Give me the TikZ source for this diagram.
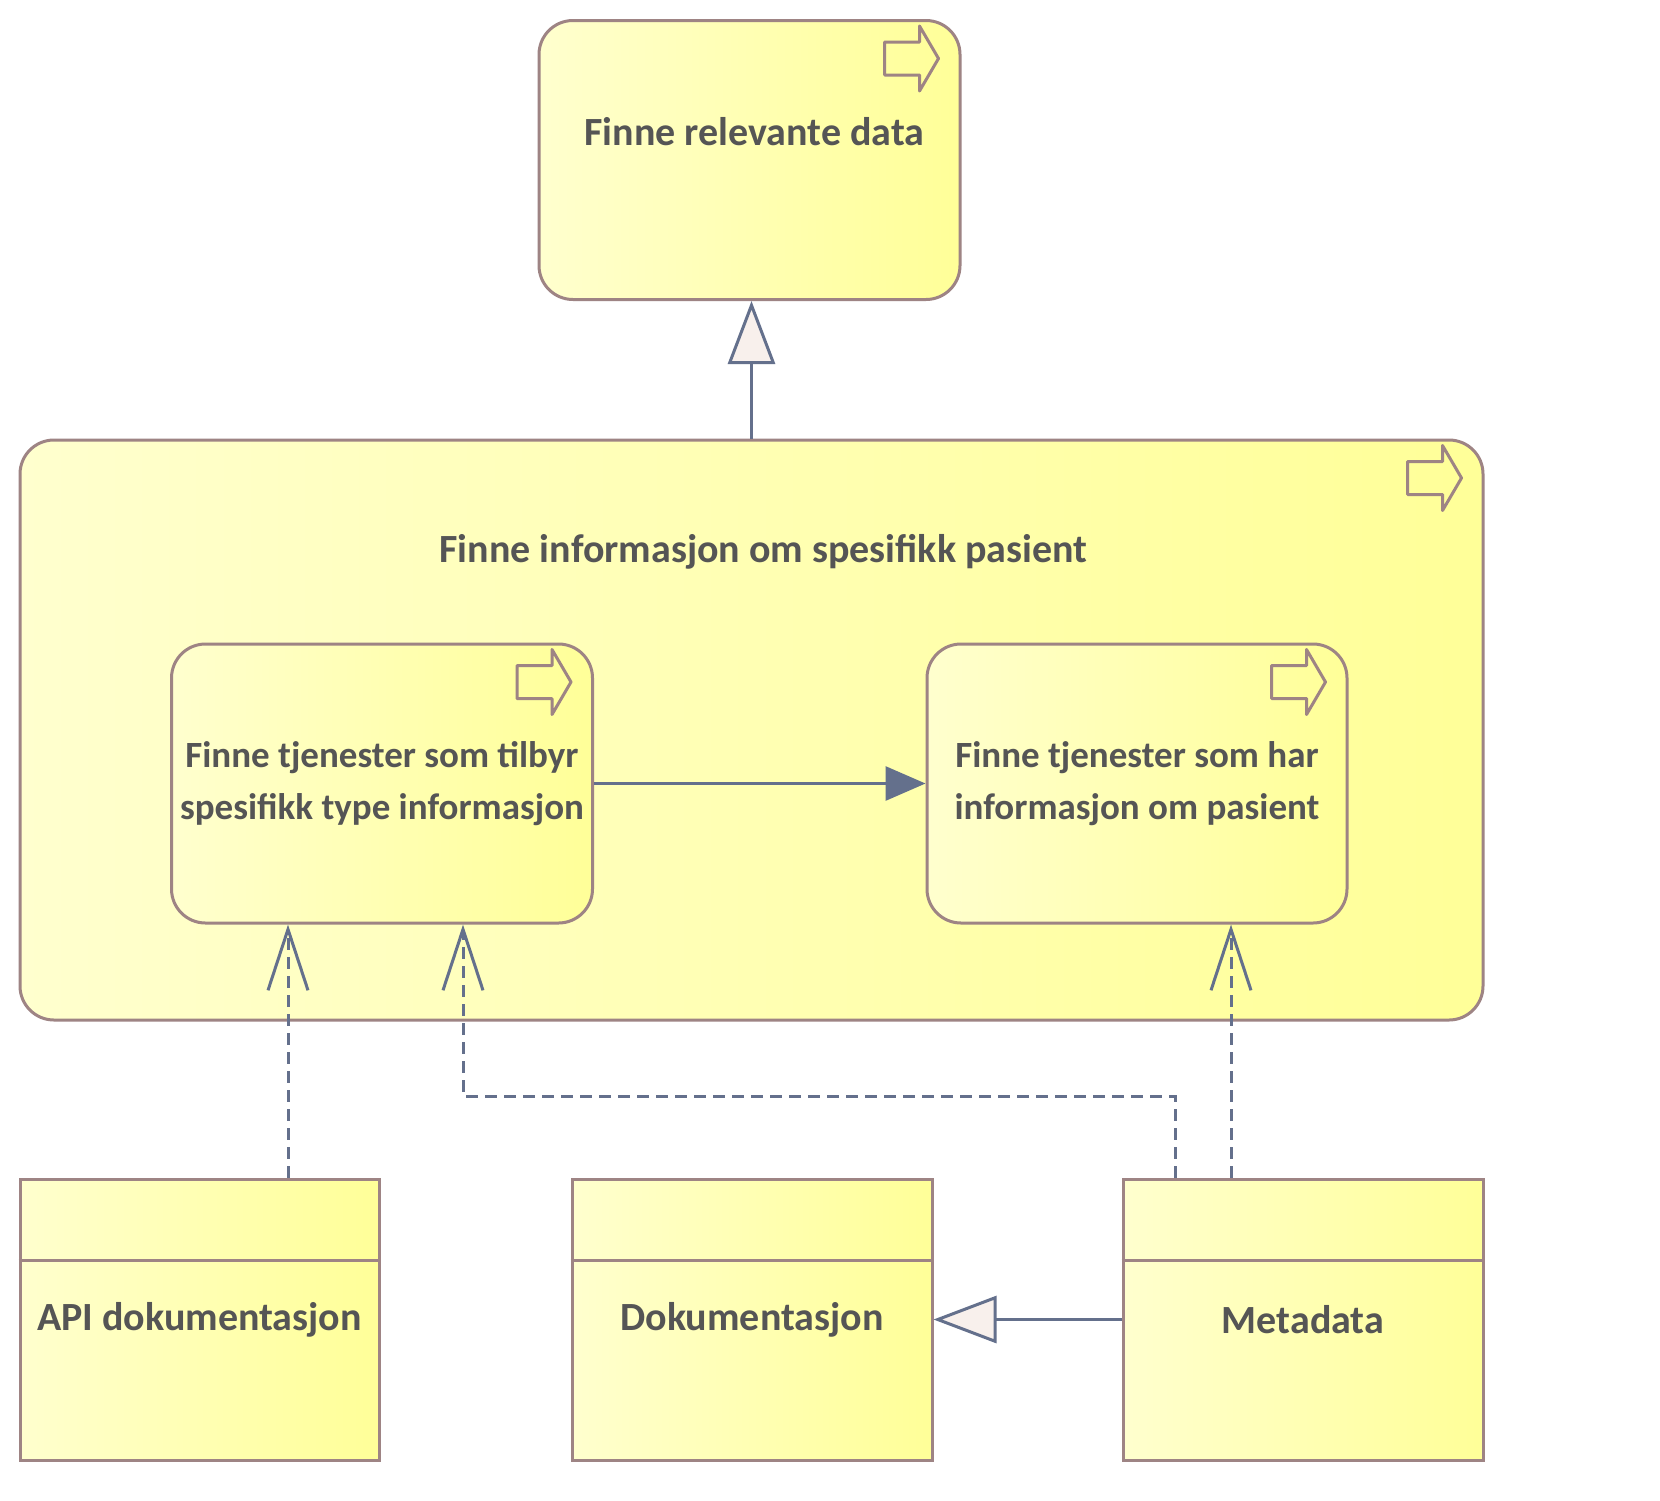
\documentclass[tikz,border=0pt]{standalone}
\usepackage{fontspec}
\setmainfont{Carlito}
\usetikzlibrary{arrows.meta, positioning, calc}
\definecolor{boxL}{RGB}{255,255,206}
\definecolor{boxM}{RGB}{255,255,190}
\definecolor{boxR}{RGB}{255,255,152}
\definecolor{edge}{RGB}{158,132,132}
\definecolor{conn}{RGB}{100,112,140}
\definecolor{tri}{RGB}{248,240,236}
\definecolor{txt}{RGB}{85,85,85}
\tikzstyle{proc} = [rectangle, rounded corners=34pt, draw=edge, line width=3pt, left color=boxL, middle color=boxM, right color=boxR, inner sep=0pt, text=txt, align=center, font=\bfseries\fontsize{37}{52}\selectfont]
\tikzstyle{obj} = [rectangle, draw=edge, line width=3pt, left color=boxL, middle color=boxM, right color=boxR, inner sep=0pt, text=txt, align=center, font=\bfseries\fontsize{40}{52}\selectfont, minimum width=360pt, minimum height=281pt]
\tikzstyle{lbl} = [text=txt, inner sep=0pt, font=\bfseries\fontsize{40}{52}\selectfont]
\tikzstyle{icon} = [draw=edge, line width=3pt, line join=round]
\tikzstyle{spec} = [draw=conn, line width=3pt, -{Triangle[length=63pt,width=47pt,fill=tri]}]
\tikzstyle{trig} = [draw=conn, line width=3pt, -{Triangle[length=40pt,width=34pt]}]
\tikzstyle{serve} = [draw=conn, line width=3pt, dash pattern=on 12pt off 7pt, -{Straight Barb[length=61pt,width=40pt]}]
\newcommand{\procicon}[1]{\draw[icon, shift={(#1.north east)}] (-77,23) -- (-42,23) -- (-42,7) -- (-23,39.5) -- (-42,72) -- (-42,56) -- (-77,56) -- cycle;}

\begin{document}
\begin{tikzpicture}[x=1pt, y=-1pt]
    \useasboundingbox[fill=white] (0,0) rectangle (1660,1500);
    % processes
    \node (rel) [proc, minimum width=421pt, minimum height=279pt] at (749.5,160) {};
    \node (spes) [proc, minimum width=1463pt, minimum height=580pt] at (751.5,730) {};
    \node (tjL) [proc, minimum width=421pt, minimum height=279pt] at (382,783.5) {Finne tjenester som tilbyr\\spesifikk type informasjon};
    \node (tjR) [proc, minimum width=420pt, minimum height=279pt] at (1137,783.5) {Finne tjenester som har\\informasjon om pasient};
    \node (relTxt) [lbl] at ([xshift=5pt, yshift=-113pt]rel.north) {Finne relevante data};
    \node (spesTxt) [lbl] at ([xshift=12pt, yshift=-113pt]spes.north) {Finne informasjon om spesifikk pasient};
    \procicon{rel}
    \procicon{spes}
    \procicon{tjL}
    \procicon{tjR}
    % data objects
    \node (api) [obj, minimum width=359pt] at (199.5,1319.5) {API dokumentasjon};
    \node (dok) [obj] at (752,1319.5) {Dokumentasjon};
    \node (meta) [obj] at (1303,1319.5) {Metadata};
    \draw[edge, line width=3pt] (api.west |- 0,1260) -- (api.east |- 0,1260);
    \draw[edge, line width=3pt] (dok.west |- 0,1260) -- (dok.east |- 0,1260);
    \draw[edge, line width=3pt] (meta.west |- 0,1260) -- (meta.east |- 0,1260);
    % relations
    \coordinate (xa) at (288,0);
    \coordinate (xb) at (1175,0);
    \coordinate (xc) at (1231,0);
    \coordinate (kink) at (463,1096);
    \draw [spec] (spes.north) -- (spes.north |- rel.south);
    \draw [trig] (tjL.east) -- (tjR.west);
    \draw [serve] (api.north -| xa) -- (tjL.south -| xa);
    \draw [serve] (meta.north -| xb) |- (kink) -- (kink |- tjL.south);
    \draw [serve] (meta.north -| xc) -- (tjR.south -| xc);
    \draw [spec] (meta.west) -- (dok.east);
\end{tikzpicture}
\end{document}
